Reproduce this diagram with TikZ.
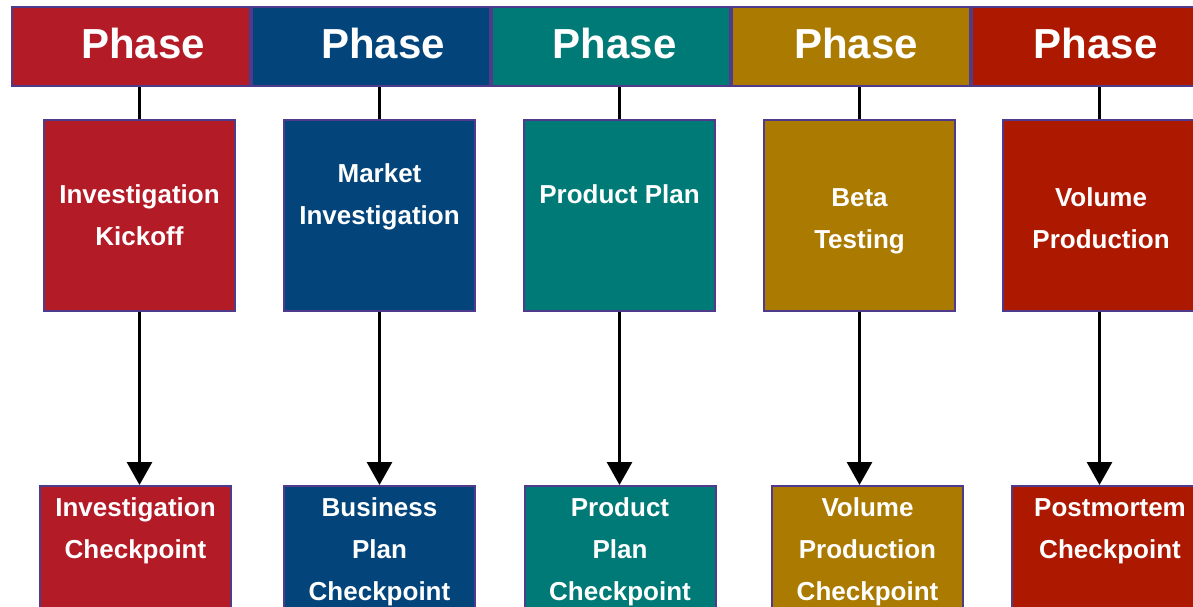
\documentclass[tikz,border=0pt]{standalone}
\usepackage{fontspec}
\setmainfont{Liberation Sans}
\usetikzlibrary{arrows.meta}

\definecolor{phred}{HTML}{B31B27}
\definecolor{phblue}{HTML}{03457A}
\definecolor{phteal}{HTML}{007A76}
\definecolor{phgold}{HTML}{AB7A00}
\definecolor{phrust}{HTML}{AC1800}
\definecolor{edge}{HTML}{4F3A8C}

\tikzset{
  phase/.style={draw=edge, line width=2pt, minimum width=238pt, minimum height=79pt, inner sep=0pt},
  phtext/.style={text=white, inner sep=0pt, font=\bfseries\fontsize{42}{42}\selectfont},
  task/.style={draw=edge, line width=2pt, minimum width=191pt, minimum height=191pt, inner sep=0pt,
    text=white, align=center, font=\bfseries\fontsize{26}{42}\selectfont},
  gatetext/.style={text=white, align=center, inner sep=0pt, anchor=north, yshift=-12pt,
    font=\bfseries\fontsize{26}{42}\selectfont},
  link/.style={line width=3pt},
  flow/.style={line width=3pt, -{Triangle[width=25pt,length=23pt]}}
}

\begin{document}
\begin{tikzpicture}[x=1pt, y=-1pt]

\useasboundingbox (0,0) rectangle (1193,607);
\clip (-10,-10) rectangle (1210,620);

% Phase headers
\node[phase, fill=phred] (hd1) at (131,47) {};
\node[phase, fill=phblue] (hd2) at (371,47) {};
\node[phase, fill=phteal] (hd3) at (611,47) {};
\node[phase, fill=phgold] (hd4) at (851,47) {};
\node[phase, fill=phrust] (hd5) at (1091,47) {};

% Activities
\node[task, fill=phred] (act1) at (139.5,215.5) {Investigation\\Kickoff};
\node[task, fill=phblue] (act2) at (379.5,215.5) {Market\\Investigation\\\mbox{}};
\node[task, fill=phteal] (act3) at (619.5,215.5) {Product Plan\\\mbox{}};
\node[task, fill=phgold] (act4) at (859.5,215.5) {\rule{0pt}{29pt}Beta\\Testing};
\node[task, fill=phrust, minimum width=196pt] (act5) at (1101,215.5) {\rule{0pt}{24pt}Volume\\Production};

% Header labels, centred over the links
\node[phtext] (ph1) at (143,43) {Phase};
\node[phtext] (ph2) at (383,43) {Phase};
\node[phtext] (ph3) at (614.5,43) {Phase};
\node[phtext] (ph4) at (856,43) {Phase};
\node[phtext] (ph5) at (1095.5,43) {Phase};

% Checkpoints
\node[task, fill=phred] (chk1) at (135.5,581.5) {};
\node[task, fill=phblue] (chk2) at (379.5,581.5) {};
\node[task, fill=phteal] (chk3) at (620,581.5) {};
\node[task, fill=phgold] (chk4) at (867.5,581.5) {};
\node[task, fill=phrust, minimum width=196pt] (chk5) at (1110,581.5) {};

\node[gatetext] (gt1) at (chk1.north) {Investigation\\Checkpoint};
\node[gatetext] (gt2) at (chk2.north) {Business\\Plan\\Checkpoint};
\node[gatetext] (gt3) at (chk3.north) {Product\\Plan\\Checkpoint};
\node[gatetext] (gt4) at (chk4.north) {Volume\\Production\\Checkpoint};
\node[gatetext, yshift=-1pt] (gt5) at (chk5.north) {Postmortem\\Checkpoint};

% Header to activity
\draw[link] (139.5,0 |- hd1.south) -- (139.5,0 |- act1.north);
\draw[link] (act2.north |- hd2.south) -- (act2.north);
\draw[link] (act3.north |- hd3.south) -- (act3.north);
\draw[link] (act4.north |- hd4.south) -- (act4.north);
\draw[link] (1099.5,0 |- hd5.south) -- (1099.5,0 |- act5.north);

% Activity to checkpoint
\draw[flow] (act1.south) -- (act1.south |- chk1.north);
\draw[flow] (act2.south) -- (act2.south |- chk2.north);
\draw[flow] (act3.south) -- (act3.south |- chk3.north);
\draw[flow] (act4.south) -- (act4.south |- chk4.north);
\draw[flow] (1099.5,0 |- act5.south) -- (1099.5,0 |- chk5.north);

\end{tikzpicture}
\end{document}
